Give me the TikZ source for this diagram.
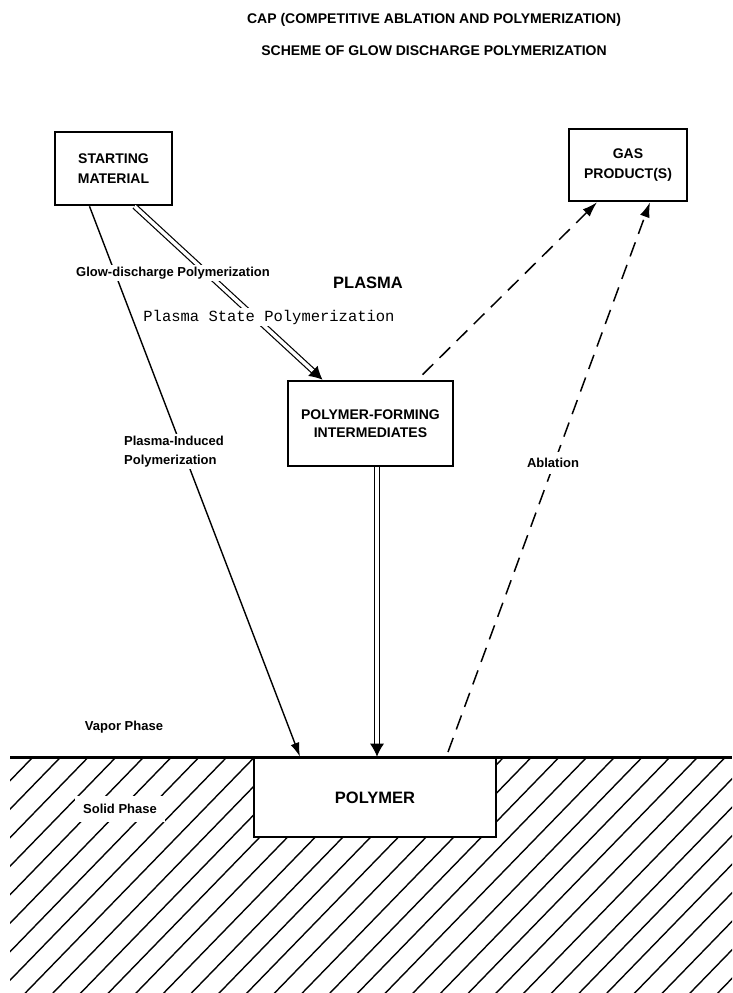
\documentclass[tikz,border=0pt]{standalone}
\usepackage{fontspec}
\setmainfont{Liberation Sans}
\newfontfamily\typewfont{Liberation Mono}
\usetikzlibrary{arrows.meta,calc}

\tikzset{
  box/.style={draw, line width=2.6pt, fill=white, align=center, inner sep=0pt,
    font=\fontsize{14}{19.5}\selectfont\bfseries},
  lbl/.style={font=\fontsize{13}{19}\selectfont\bfseries, inner sep=2pt},
  title/.style={font=\fontsize{14}{17}\selectfont\bfseries},
  thinarrow/.style={line width=1.4pt, -{Latex[length=14pt,width=9pt]}},
  dbl/.style={double, double distance=3.5pt, line width=1.2pt, shorten >=11pt},
  dblhead/.style={line width=1pt, -{Latex[length=13pt,width=14pt]}},
  dashes/.style={line width=1.5pt, dash pattern=on 15pt off 9pt, -{Latex[length=15pt,width=10pt]}},
  hatch/.style={line width=1.4pt}
}

\begin{document}
\begin{tikzpicture}[x=1pt, y=-1pt]
  \useasboundingbox (0,0) rectangle (732,993);

  \node[title] (t1) at (434,20) {CAP (COMPETITIVE ABLATION AND POLYMERIZATION)};
  \node[title] (t2) at (434,51) {SCHEME OF GLOW DISCHARGE POLYMERIZATION};

  \begin{scope}
    \clip (10,757) rectangle (732,993);
    \foreach \k in {-8,...,34}
      \draw[hatch] (33+27.7*\k,757) -- ++(-240,247);
  \end{scope}
  \draw[line width=3pt] (10,757) -- (732,757);

  \node[box, minimum width=117pt, minimum height=73pt] (sm) at (113.5,168.5) {STARTING\\MATERIAL};
  \node[box, minimum width=118pt, minimum height=72pt] (gas) at (628,165) {GAS\\PRODUCT(S)};
  \node[box, minimum width=165pt, minimum height=85pt, font=\fontsize{14}{18}\selectfont\bfseries]
    (pfi) at (370.5,423.5) {POLYMER-FORMING\\INTERMEDIATES};
  \node[box, minimum width=242pt, minimum height=79pt, font=\fontsize{16.5}{19}\selectfont\bfseries]
    (poly) at (375,797.5) {POLYMER};

  \coordinate (sm-a) at ([xshift=-24pt]sm.south);
  \coordinate (sm-b) at ([xshift=21pt]sm.south);
  \coordinate (pfi-in) at ([xshift=-48pt]pfi.north);
  \coordinate (pfi-out) at ([xshift=6.5pt]pfi.south);
  \coordinate (pfi-gas) at ([xshift=52pt,yshift=5pt]pfi.north);
  \coordinate (poly-a) at ([xshift=-75pt]poly.north);
  \coordinate (poly-b) at ([xshift=2pt]poly.north);
  \coordinate (abl) at (448,752);

  \draw[thinarrow] (sm-a) -- (poly-a);
  \draw[dbl] (sm-b) -- (pfi-in);
  \draw[dblhead] ($(pfi-in)!13pt!(sm-b)$) -- (pfi-in);
  \draw[dbl] (pfi-out) -- (poly-b);
  \draw[dblhead] ($(poly-b)!13pt!(pfi-out)$) -- (poly-b);
  \draw[dashes] (pfi-gas) -- ([xshift=-31pt]gas.south);
  \draw[dashes] (abl) -- ([xshift=22pt]gas.south);

  \node[lbl, fill=white] (glow) at (173,273) {Glow-discharge Polymerization};
  \node[font=\fontsize{16.5}{19}\selectfont\bfseries] (plasma) at (368,283) {PLASMA};
  \node[fill=white, inner sep=2pt, font=\typewfont\fontsize{15.5}{19}\selectfont] (psp) at (269,317) {Plasma State Polymerization};
  \node[lbl, fill=white, align=left] (pip) at (174,451.5) {Plasma-Induced\\Polymerization};
  \node[lbl, fill=white, inner sep=6pt] (ablt) at (553,463) {Ablation};
  \node[lbl] (vap) at (124,727) {Vapor Phase};
  \node[lbl, fill=white, inner sep=8pt] (sol) at (120,809) {Solid Phase};
\end{tikzpicture}
\end{document}
